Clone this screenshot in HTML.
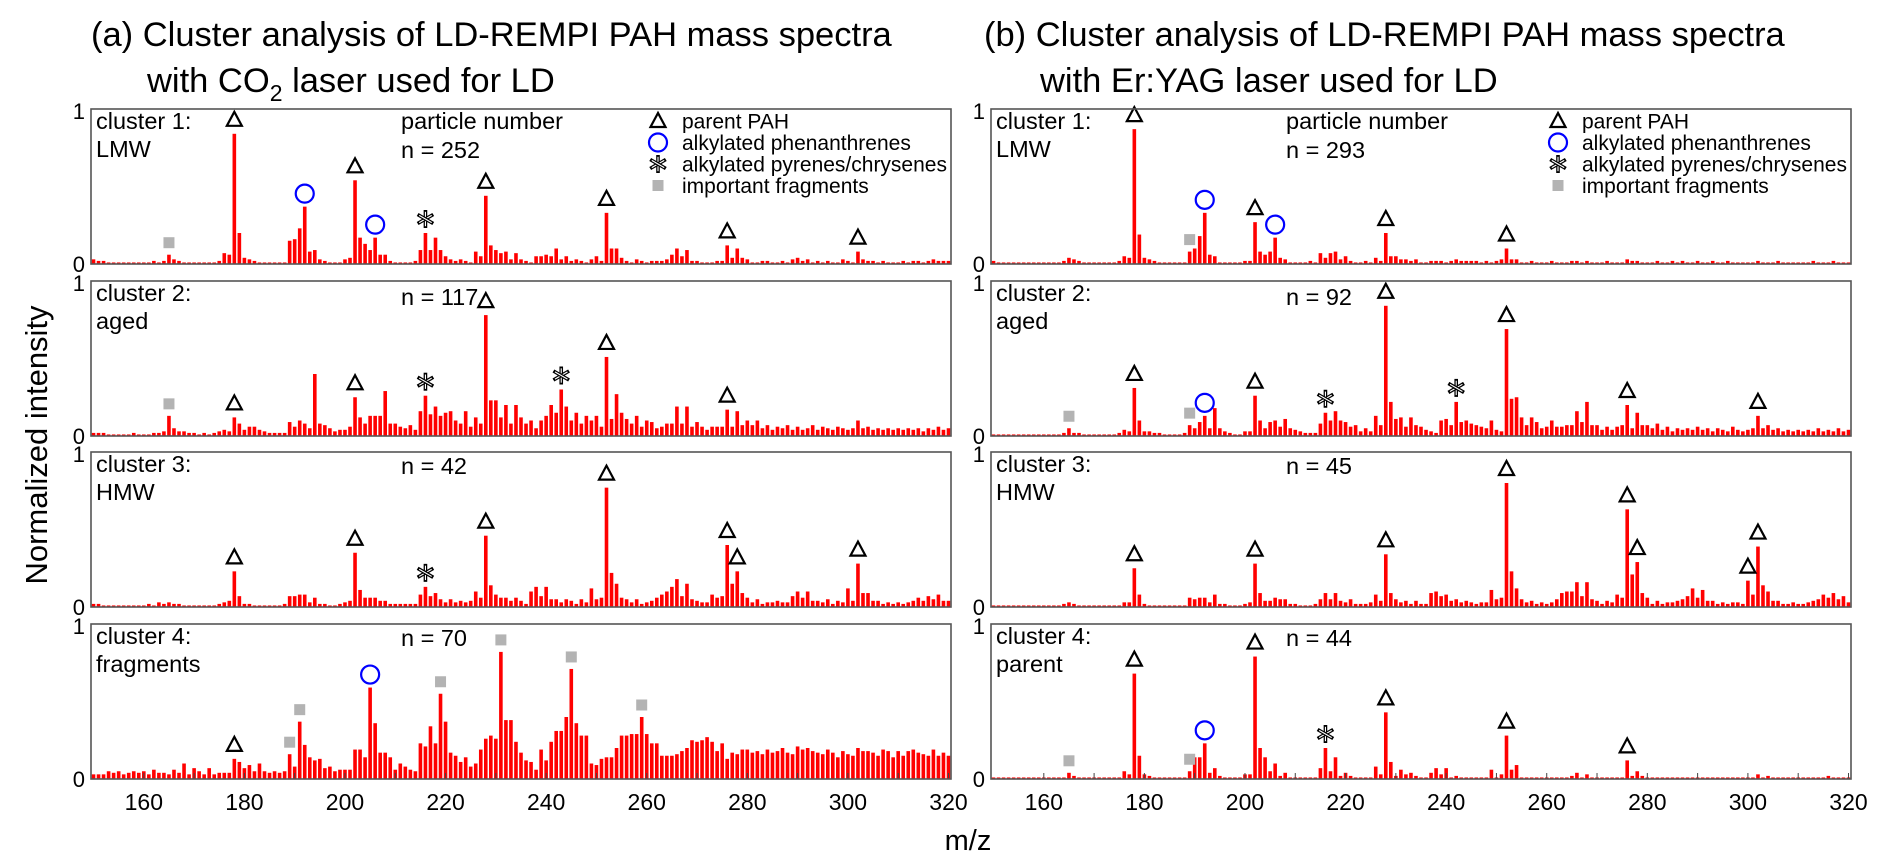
<!DOCTYPE html>
<html><head><meta charset="utf-8"><style>
html,body{margin:0;padding:0;background:#fff;}
svg{display:block;font-family:"Liberation Sans",Arial,sans-serif;}
</style></head><body>
<svg id="chart" width="1892" height="867" viewBox="0 0 1892 867" xmlns="http://www.w3.org/2000/svg">
<text x="91" y="46" font-size="34.5">(a) Cluster analysis of LD-REMPI PAH mass spectra</text>
<text x="147" y="92" font-size="34.5">with CO<tspan font-size="23" dy="9">2</tspan><tspan dy="-9"> laser used for LD</tspan></text>
<text x="984" y="46" font-size="34.5">(b) Cluster analysis of LD-REMPI PAH mass spectra</text>
<text x="1040" y="92" font-size="34.5">with Er:YAG laser used for LD</text>
<text transform="translate(47,445) rotate(-90)" text-anchor="middle" font-size="31">Normalized intensity</text>
<text x="968" y="850" text-anchor="middle" font-size="29">m/z</text>
<g id="panels"></g>
</svg>
<script>
const mzStart = 150;
const mzEnd = 320;
const xTicks = [160,180,200,220,240,260,280,300,320];
const a1 = [3,2,2,1,1,1,1,1,1,1, 1,1,2,1,2,6,3,2,1,1, 1,1,1,1,1,2,7,6,84,20, 4,3,2,1,1,1,1,1,1,15, 16,23,37,8,9,3,2,1,1,1, 3,4,54,17,13,9,17,6,6,2, 1,1,1,1,2,9,20,9,17,9, 5,3,2,3,2,1,8,5,44,12, 9,7,8,3,7,3,2,1,5,5, 6,5,10,3,5,2,3,2,1,3, 5,2,33,10,10,4,2,1,3,2, 1,2,2,2,3,6,10,5,9,2, 2,1,1,1,2,2,12,4,10,4, 3,1,1,2,2,1,1,2,1,3, 4,2,3,1,2,1,2,1,1,3, 2,1,8,3,2,2,1,2,1,1, 1,2,1,2,2,1,2,3,2,2, 2];
const a2 = [2,2,2,1,1,1,1,1,2,1, 1,1,2,2,3,13,5,3,3,2, 2,1,2,1,2,3,4,3,12,8, 4,6,6,4,3,2,2,2,2,9, 6,10,8,5,40,8,7,5,3,4, 4,6,25,12,8,13,13,13,29,8, 8,6,5,7,4,16,26,14,19,13, 15,16,10,8,16,6,12,8,78,23, 23,12,20,8,20,12,8,10,5,10, 13,20,15,30,19,10,15,8,13,10, 13,6,51,11,27,15,11,8,13,6, 10,9,5,6,8,8,19,8,19,6, 9,6,4,6,6,6,17,6,16,7, 10,7,10,5,7,4,6,5,7,4, 6,4,5,7,4,6,5,4,6,5, 4,5,10,5,6,4,5,4,5,4, 5,4,5,4,5,3,5,4,6,4, 5];
const a3 = [2,2,1,1,1,1,1,1,1,1, 1,2,1,3,2,3,2,2,1,1, 1,1,1,1,1,2,3,4,23,7, 2,2,1,1,1,1,1,1,2,7, 7,8,8,3,6,2,2,1,1,2, 3,4,35,11,6,6,6,4,4,2, 2,2,2,2,2,8,13,7,9,5, 3,5,3,4,3,4,10,6,46,14, 8,6,6,4,6,4,2,10,13,7, 13,5,5,3,5,4,2,5,3,12, 5,6,77,22,15,6,5,3,5,2, 3,4,6,8,10,13,18,7,15,5, 4,3,3,8,6,7,40,15,23,9, 6,3,5,2,3,3,4,3,3,7, 10,6,10,4,4,3,5,2,4,3, 12,4,28,9,9,4,4,2,3,2, 3,2,3,4,6,4,7,5,8,4, 4];
const a4 = [3,3,3,5,4,5,3,4,5,4, 5,3,6,4,4,3,6,4,10,3, 7,5,3,7,3,4,4,4,13,11, 7,9,5,10,5,4,5,4,5,16, 8,37,22,14,12,13,7,8,5,6, 6,6,19,19,14,59,36,17,17,14, 6,10,8,6,5,23,21,34,23,55, 37,17,15,11,14,8,10,19,26,28, 26,82,38,38,24,17,12,11,6,19, 12,24,31,31,40,71,36,28,28,10, 9,13,14,14,20,28,28,29,29,40, 29,23,23,15,15,15,16,18,20,25, 24,25,27,24,18,23,13,17,16,19, 19,17,18,16,19,17,18,20,17,16, 21,19,20,18,17,16,19,17,14,18, 16,15,20,18,18,17,15,19,18,14, 18,15,18,19,17,16,15,19,15,17, 15];
const b1 = [2,1,1,1,1,1,1,1,1,1, 1,1,1,1,2,4,3,2,1,1, 1,1,1,1,1,2,5,4,87,19, 4,3,2,1,1,1,1,1,1,8, 10,18,33,6,5,1,1,1,1,1, 2,2,27,8,6,8,17,4,3,1, 1,1,1,2,1,7,4,7,8,3, 5,2,1,1,2,1,4,2,20,5, 5,3,3,2,3,1,1,2,2,2, 1,2,3,2,2,2,2,1,2,1, 2,3,10,3,3,1,1,2,1,1, 1,2,1,1,1,2,2,1,2,1, 1,1,2,1,1,1,3,2,2,1, 1,1,2,1,1,2,1,2,1,1, 2,1,1,2,1,1,2,1,1,1, 1,1,2,1,1,1,2,1,1,1, 1,1,1,2,1,1,1,2,1,1, 1];
const b2 = [1,1,1,1,1,1,1,1,1,1, 1,1,1,1,2,5,2,2,1,1, 1,1,1,1,1,2,4,3,31,10, 3,3,2,2,1,1,1,1,2,7, 5,9,13,5,18,5,3,2,1,1, 3,3,26,10,5,9,10,6,11,5, 4,3,2,2,2,8,15,10,16,10, 9,6,7,3,5,3,13,7,84,22, 11,12,6,12,7,6,4,3,2,10, 11,7,22,9,10,8,7,6,5,10, 4,3,69,24,25,12,7,12,9,5, 6,10,6,6,7,7,16,9,22,7, 7,4,6,4,6,7,20,5,15,7, 7,5,8,4,6,3,5,4,5,4, 6,4,5,3,5,4,3,6,4,3, 4,5,13,5,7,4,5,3,4,3, 4,3,4,3,5,3,4,3,5,3, 4];
const b3 = [1,1,1,1,1,1,1,1,1,1, 1,1,1,1,2,3,2,1,1,1, 1,1,1,1,1,1,3,3,25,8, 2,1,1,1,1,1,1,1,1,6, 5,6,6,3,8,2,2,1,1,1, 2,3,28,9,4,4,6,5,5,2, 2,1,1,1,2,5,9,5,9,4, 3,5,2,2,2,3,8,4,34,9, 5,3,4,2,4,2,2,9,10,7, 8,4,5,3,4,3,2,3,3,11, 5,6,80,23,12,5,3,4,2,3, 2,3,5,9,10,10,16,7,16,5, 4,2,4,3,8,6,63,21,29,9, 6,2,4,2,3,3,4,5,7,12, 6,11,4,4,2,3,2,3,3,2, 17,8,39,14,10,4,4,2,2,3, 2,2,3,4,5,8,6,9,5,7, 3];
const b4 = [1,1,1,1,1,1,1,1,1,1, 1,1,1,1,1,4,2,1,1,1, 1,1,1,1,1,1,5,3,68,15, 3,2,1,1,1,1,1,1,1,5, 14,14,23,4,7,2,1,1,1,1, 3,3,79,20,14,5,10,2,4,1, 1,1,1,1,1,7,20,5,14,2, 4,2,1,1,1,1,8,3,43,11, 2,6,3,4,2,1,1,4,7,3, 7,1,2,1,1,1,1,1,1,6, 1,3,28,6,9,1,1,1,1,1, 1,1,1,1,1,2,4,1,3,1, 1,1,1,1,1,1,12,2,5,2, 1,1,1,1,1,1,1,1,1,1, 1,1,1,1,1,1,1,1,1,1, 1,1,3,1,2,1,1,1,1,1, 1,1,1,1,1,1,2,1,1,1, 1];
const markA1 = [[165,'g'],[178,'t'],[192,'c'],[202,'t'],[206,'c'],[216,'s'],[228,'t'],[252,'t'],[276,'t'],[302,'t']];
const markA2 = [[165,'g'],[178,'t'],[202,'t'],[216,'s'],[228,'t'],[243,'s'],[252,'t'],[276,'t']];
const markA3 = [[178,'t'],[202,'t'],[216,'s'],[228,'t'],[252,'t'],[276,'t'],[278,'t'],[302,'t']];
const markA4 = [[178,'t'],[189,'g'],[191,'g'],[205,'c'],[219,'g'],[231,'g'],[245,'g'],[259,'g']];
const markB1 = [[178,'t'],[189,'g'],[192,'c'],[202,'t'],[206,'c'],[228,'t'],[252,'t']];
const markB2 = [[165,'g'],[178,'t'],[189,'g'],[192,'c'],[202,'t'],[216,'s'],[228,'t'],[242,'s'],[252,'t'],[276,'t'],[302,'t']];
const markB3 = [[178,'t'],[202,'t'],[228,'t'],[252,'t'],[276,'t'],[278,'t'],[300,'t'],[302,'t']];
const markB4 = [[165,'g'],[178,'t'],[189,'g'],[192,'c'],[202,'t'],[216,'s'],[228,'t'],[252,'t'],[276,'t']];
const clusterNames = ['cluster 1:','cluster 2:','cluster 3:','cluster 4:'];
const subA = ['LMW','aged','HMW','fragments'];
const subB = ['LMW','aged','HMW','parent'];
const countsA = ['n = 252','n = 117','n = 42','n = 70'];
const countsB = ['n = 293','n = 92','n = 45','n = 44'];
const legendLabels = ['parent PAH','alkylated phenanthrenes','alkylated pyrenes/chrysenes','important fragments'];

const NS='http://www.w3.org/2000/svg';
const root=document.getElementById('panels');
function mk(tag,attrs,parent){const e=document.createElementNS(NS,tag);for(const k in attrs)e.setAttribute(k,attrs[k]);(parent||root).appendChild(e);return e;}
const rowTop=[109,281,452,624], rowH=155;
const colLeft=[91,991], colW=860;

function drawMarker(g,type,cx,cy){
  let e;
  if(type==='t'){
    e=mk('polygon',{points:`${cx},${cy-8} ${cx-7.5},${cy+6} ${cx+7.5},${cy+6}`,fill:'none',stroke:'#000','stroke-width':2.2,'stroke-linejoin':'miter'},g);
    
  } else if(type==='c'){
    e=mk('ellipse',{cx:cx,cy:cy,rx:9,ry:9,fill:'none',stroke:'#0000ff','stroke-width':2.2},g);
    
  } else if(type==='s'){
    e=mk('g',{},g);
    for(let k=0;k<3;k++){const a=Math.PI/2+k*Math.PI/3;const dx=9*Math.cos(a),dy=9*Math.sin(a);
      mk('line',{x1:cx-dx,y1:cy-dy,x2:cx+dx,y2:cy+dy,stroke:'#000','stroke-width':3.6},e);
      mk('line',{x1:cx-dx*0.8,y1:cy-dy*0.8,x2:cx+dx*0.8,y2:cy+dy*0.8,stroke:'#fff','stroke-width':1.1},e);}
    
  } else {
    e=mk('rect',{x:cx-5.5,y:cy-5.5,width:11,height:11,fill:'#b3b3b3'},g);
    
  }
  
}

function drawPanel(col,row,vals,marks,sub,count,bottom){
  const L=colLeft[col], T=rowTop[row], B=T+rowH;
  const x=m=>L+(m-mzStart+0.5)*colW/(mzEnd-mzStart+1);
  const y=v=>B-v/100*rowH;
  const g=mk('g',{});
  
  
  vals.forEach((v,i)=>{const m=mzStart+i;const h=B-y(v);
    const r=mk('rect',{x:x(m)-1.8,y:y(v),width:3.6,height:Math.max(h,0.8),fill:'#ff0000'},g);
    
    
  });
  if(bottom){for(let m=160;m<=mzEnd;m+=10){mk('line',{x1:x(m),y1:B,x2:x(m),y2:B-6,stroke:'#444','stroke-width':1},g);}}
  marks.forEach(([m,t])=>{const v=vals[m-mzStart];const off=t==='t'?14:(t==='c'?13:(t==='s'?14:12));drawMarker(g,t,x(m),y(v)-off);});
  const fr=mk('rect',{x:L,y:T,width:colW,height:rowH,fill:'none',stroke:'#555','stroke-width':1.6},g);
  
  
  const t1=mk('text',{x:L+5,y:T+20,'font-size':23.5},g);t1.textContent=clusterNames[row];
  
  
  const t2=mk('text',{x:L+5,y:T+48,'font-size':23.5},g);t2.textContent=sub;
  
  
  const nx=col?1286:401;
  if(row===0){const p=mk('text',{x:nx,y:T+20,'font-size':23.5},g);p.textContent='particle number';
    
    }
  const n=mk('text',{x:nx,y:T+(row===0?49:(row===1?24:22)),'font-size':23.5},g);n.textContent=count;
  
  
  const y1=mk('text',{x:L-6,y:T+10,'font-size':22,'text-anchor':'end'},g);y1.textContent='1';
  
  
  const y0=mk('text',{x:L-6,y:B+8,'font-size':22,'text-anchor':'end'},g);y0.textContent='0';
  
  
  if(bottom){xTicks.forEach(tk=>{const tl=mk('text',{x:x(tk),y:B+31,'font-size':23,'text-anchor':'middle'},g);tl.textContent=tk;
    
    });}
  if(row===0){
    const lg=mk('g',{},g);
    
    
    const lx=L+567, types=['t','c','s','g'];
    legendLabels.forEach((lab,i)=>{const ly=T+12+i*21.5;
      drawMarker(lg,types[i],lx,ly);
      const tt=mk('text',{x:lx+24,y:ly+7.5,'font-size':21},lg);tt.textContent=lab;
      
      });
  }
}
const dataA=[a1,a2,a3,a4], dataB=[b1,b2,b3,b4];
const marksA=[markA1,markA2,markA3,markA4], marksB=[markB1,markB2,markB3,markB4];
for(let r=0;r<4;r++){
  drawPanel(0,r,dataA[r],marksA[r],subA[r],countsA[r],r===3);
  drawPanel(1,r,dataB[r],marksB[r],subB[r],countsB[r],r===3);
}
</script>
</body></html>
